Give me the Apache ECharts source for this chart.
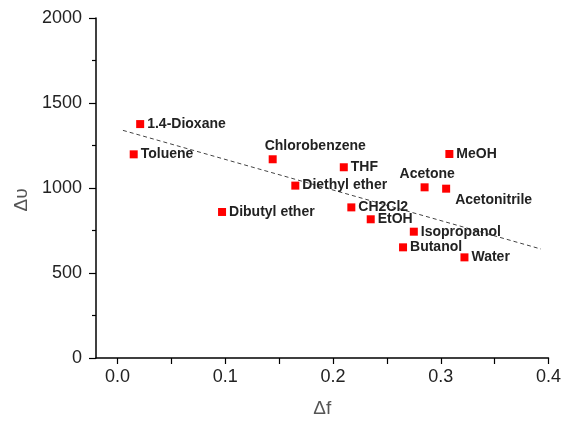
<!DOCTYPE html>
<html>
<head>
<meta charset="utf-8">
<script src="https://cdn.jsdelivr.net/npm/echarts@6/dist/echarts.min.js"></script>
<style>
html,body{margin:0;padding:0;background:#fff;}
#chart{width:564px;height:423px;}
</style>
</head>
<body>
<div id="chart"></div>
<script>
const solvents = ['1.4-Dioxane','Toluene','Chlorobenzene','Diethyl ether','Dibutyl ether','THF','MeOH','Acetone','Acetonitrile','CH2Cl2','EtOH','Isopropanol','Butanol','Water'];
const deltaF = [0.021,0.015,0.144,0.165,0.097,0.210,0.308,0.285,0.305,0.217,0.235,0.275,0.265,0.322];
const deltaNu = [1376,1198,1169,1014,859,1122,1200,1004,996,886,816,743,651,592];
const fitX = [0.005, 0.393];
const fitY = [1339, 641];
const xTickLabels = [0, 0.1, 0.2, 0.3, 0.4];
const xTickMarks = [0, 0.05, 0.1, 0.15, 0.2, 0.25, 0.3, 0.35, 0.4];

// label placement tweaks: [dx, dy] in pixels relative to default 'right' position
const labelShift = {
  'Chlorobenzene': [-15, -13],
  'Acetone': [-32, -13],
  'Acetonitrile': [2, 11]
};

const scatterData = solvents.map((n, i) => ({name: n, value: [deltaF[i], deltaNu[i]]}));

const chart = echarts.init(document.getElementById('chart'));
chart.setOption({
  animation: false,
  grid: {left: 96, right: 15, top: 18, bottom: 65, containLabel: false},
  xAxis: {
    type: 'value', min: -0.02, max: 0.4,
    name: 'Δf', nameLocation: 'middle', nameGap: 41,
    nameTextStyle: {fontFamily: 'Liberation Sans', fontSize: 19, color: '#555'},
    axisLine: {show: true, onZero: false, lineStyle: {color: '#000', width: 1.5}},
    axisTick: {show: true, inside: false, length: 6, customValues: xTickMarks, lineStyle: {color: '#000', width: 1.2}},
    axisLabel: {customValues: xTickLabels, margin: 10, fontFamily: 'Liberation Sans', fontSize: 18, color: '#222',
      formatter: v => Number(v).toFixed(1)},
    splitLine: {show: false}
  },
  yAxis: {
    type: 'value', min: 0, max: 2000, interval: 500,
    name: 'Δυ', nameLocation: 'middle', nameGap: 63,
    nameTextStyle: {fontFamily: 'Liberation Sans', fontSize: 19, color: '#555', padding: [0, 24, 0, 0]},
    axisLine: {show: true, onZero: false, lineStyle: {color: '#000', width: 1.5}},
    axisTick: {show: true, inside: false, length: 7, lineStyle: {color: '#000', width: 1.2}},
    minorTick: {show: true, splitNumber: 2, length: 4, lineStyle: {color: '#000', width: 1.2}},
    axisLabel: {margin: 14, fontFamily: 'Liberation Sans', fontSize: 18, color: '#222',
      formatter: v => String(v)},
    splitLine: {show: false}
  },
  series: [
    {
      type: 'line',
      data: fitX.map((x, i) => [x, fitY[i]]),
      symbol: 'none',
      lineStyle: {color: '#444', width: 1, type: [4, 3]},
      z: 1, silent: true
    },
    {
      type: 'scatter',
      data: scatterData,
      symbol: 'rect', symbolSize: 8,
      itemStyle: {color: '#ff0000', opacity: 1},
      label: {show: true, position: 'right', distance: 3, formatter: '{b}',
        fontFamily: 'Liberation Sans', fontSize: 14, fontWeight: 'bold', color: '#222'},
      labelLayout: function (p) {
        const s = labelShift[solvents[p.dataIndex]];
        return s ? {dx: s[0], dy: s[1], hideOverlap: false} : {hideOverlap: false};
      },
      z: 3
    }
  ]
});
</script>
</body>
</html>
